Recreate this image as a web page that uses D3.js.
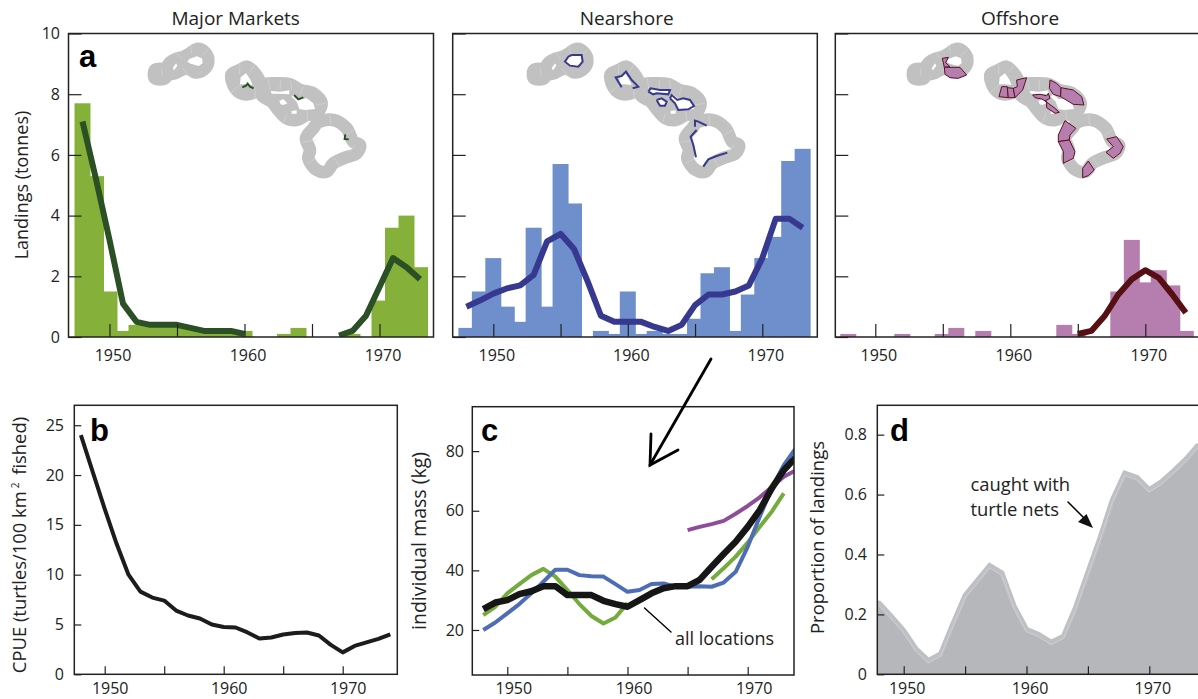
<!DOCTYPE html>
<html>
<head>
<meta charset="UTF-8" />
<title>Landings, CPUE and mass</title>
<script src="https://d3js.org/d3.v7.min.js"></script>
<style>
  body { margin: 0; background: #fff; }
  text { font-family: "Open Sans", sans-serif; fill: #222; }
  .letter { font-family: "Liberation Sans", sans-serif; font-weight: bold; font-size: 31px; fill: #000; }
  .domain { display: none; }
  .tick line { stroke: #222; stroke-width: 1.2; }
  .tick text { font-size: 16px; fill: #222; }
</style>
</head>
<body>
<script>
// years for the landings panels, one value per year
var years = d3.range(1948, 1974);
var longYears = d3.range(1948, 1975);

var marketBars = [7.7, 5.3, 1.5, 0.2, 0.4, 0.4, 0.4, 0.4, 0.3, 0.2, 0.2, 0.2, 0.2, 0, 0, 0.1, 0.3, 0, 0, 0, 0.1, 0, 1.2, 3.6, 4.0, 2.3];
var marketLine = [7.1, 5.2, 3.2, 1.1, 0.5, 0.4, 0.4, 0.4, 0.3, 0.2, 0.2, 0.2, 0.1, null, null, null, null, null, null, 0.05, 0.2, 0.7, 1.65, 2.6, 2.3, 1.9];

var nearBars = [0.3, 1.5, 2.6, 1.0, 0.5, 3.6, 1.0, 5.7, 4.4, 0, 0.2, 0.1, 1.5, 0.1, 0.2, 0.1, 0.1, 0.6, 2.1, 2.3, 0.2, 1.4, 2.6, 3.3, 5.8, 6.2];
var nearLine = [1.0, 1.2, 1.43, 1.6, 1.7, 2.05, 3.15, 3.4, 2.9, 1.85, 0.7, 0.5, 0.5, 0.5, 0.33, 0.2, 0.4, 1.05, 1.4, 1.4, 1.5, 1.7, 2.6, 3.9, 3.9, 3.6];

var offBars = [0.1, 0, 0, 0, 0.1, 0, 0, 0.1, 0.3, 0, 0.2, 0, 0, 0, 0, 0, 0.4, 0.1, 0, 0, 1.5, 3.2, 1.8, 2.2, 1.7, 0.2];
var offLine = [null, null, null, null, null, null, null, null, null, null, null, null, null, null, null, null, null, 0.1, 0.2, 0.7, 1.4, 1.9, 2.2, 1.95, 1.4, 0.8];

var cpue = [24, 20.3, 16.6, 13.1, 10, 8.3, 7.7, 7.4, 6.4, 5.9, 5.6, 5, 4.75, 4.7, 4.2, 3.6, 3.7, 4, 4.15, 4.2, 3.9, 2.95, 2.2, 2.85, 3.2, 3.55, 4];

var massGreen = [25, 27.8, 32.3, 35.4, 38.4, 40.5, 37.9, 33.4, 28.7, 24.7, 22.2, 24.2, 29, null, null, null, null, null, null, 37, 40.7, 44.6, 49.3, 54.6, 59.7, 65.8, null];
var massBlue = [20, 22.5, 25.6, 28.7, 32.3, 36.2, 40.2, 40.2, 38.4, 38, 37.9, 35.4, 32.8, 33.4, 35.4, 35.6, 34.5, 34.5, 34.7, 34.5, 35.9, 39.5, 47.9, 58, 67.5, 75.3, 81];
var massPurple = [null, null, null, null, null, null, null, null, null, null, null, null, null, null, null, null, null, 53.5, 54.6, 55.5, 56.6, 59, 61.6, 64.5, 68, 71.4, 73.6];
var massAll = [27, 29.2, 30, 32, 33, 34.7, 34.7, 31.7, 31.7, 31.7, 29.8, 28.7, 27.8, 30, 32.3, 34, 34.7, 34.7, 36.8, 41.2, 45.5, 49.6, 54.6, 60.2, 67.5, 73.6, 77.9];

var netYears = [1947.8].concat(longYears);
var netShare = [0.245, 0.244, 0.2, 0.153, 0.092, 0.053, 0.075, 0.175, 0.27, 0.32, 0.37, 0.345, 0.234, 0.157, 0.14, 0.114, 0.134, 0.231, 0.348, 0.464, 0.59, 0.678, 0.664, 0.623, 0.65, 0.687, 0.726, 0.773];

var yearTicks = [1950, 1955, 1960, 1965, 1970];

// map shapes, in pixels of the 3x crop, so the groups get scale(1/3)
var chainRings = [
  { fill: true, pts: [[45,105],[75,105],[75,130],[45,130]] },
  { fill: true, pts: [[150,55],[170,42],[195,52],[205,80],[190,105],[165,112],[140,100],[100,116],[82,118],[66,116],[75,104],[90,82],[112,70],[130,66]] },
  { fill: true, pts: [[275,118],[300,105],[322,95],[345,115],[360,145],[345,170],[320,178],[295,170],[278,145]] },
  { fill: true, pts: [[370,150],[410,145],[450,148],[480,165],[520,175],[545,205],[530,235],[500,240],[470,255],[440,250],[415,225],[395,200],[365,180]] },
  { fill: false, pts: [[535,262],[580,255],[620,280],[640,320],[660,330],[650,355],[610,370],[580,385],[560,410],[530,405],[505,370],[510,345],[498,310],[520,280]] }
];
var chainHoles = [
  [[148,72],[170,64],[186,70],[188,85],[176,93],[152,86],[142,80]],
  [[98,100],[108,85],[112,92],[102,106]],
  [[302,127],[318,115],[330,132],[338,150],[318,148],[300,148]],
  [[392,168],[420,170],[448,166],[448,178],[415,176],[395,176]],
  [[418,198],[430,192],[442,205],[430,210],[422,208]],
  [[455,228],[470,226],[470,236],[455,236]],
  [[455,185],[462,178],[480,193],[500,190],[520,205],[525,222],[495,225],[478,222],[470,200]]
];
var chainSeams = [
  [[64,100],[66,122]], [[108,50],[125,72]], [[150,28],[155,55]], [[205,45],[185,62]], [[128,100],[150,125]],
  [[300,88],[298,118]], [[345,88],[330,112]], [[300,150],[270,175]], [[345,155],[345,195]],
  [[385,130],[390,165]], [[422,135],[420,165]], [[452,135],[455,165]], [[490,155],[480,180]],
  [[558,205],[528,210]], [[500,225],[505,265]], [[440,235],[430,265]],
  [[570,240],[572,268]], [[615,300],[640,285]], [[645,330],[630,350]], [[580,365],[600,395]], [[530,370],[500,385]], [[528,315],[485,322]]
];
var greenBits = [
  [[307,157],[318,152],[323,146],[330,155],[341,160]],
  [[462,180],[475,193],[490,187]],
  [[616,298],[614,312],[626,313]]
];
var blueBits = [
  [[395,165],[425,165],[428,185],[415,200],[390,197],[375,185],[385,170],[395,165]],
  [[545,262],[527,232],[545,228],[558,215],[575,240],[595,260],[578,265]],
  [[625,275],[632,265],[660,270],[690,270],[685,283],[650,280],[640,283],[625,275]],
  [[650,300],[665,295],[680,305],[675,317],[660,317],[650,300]],
  [[690,295],[695,285],[712,300],[730,295],[750,300],[762,318],[745,328],[715,330],[705,310],[690,295]],
  [[800,377],[775,365],[765,362],[765,380]],
  [[770,390],[752,410],[760,435],[768,472]],
  [[790,500],[805,478],[830,468],[862,458]]
];
var purpleBits = [
  [[127,70],[145,67],[137,83],[150,95],[133,97]],
  [[133,97],[180,97],[200,120],[175,130],[150,128],[135,118]],
  [[297,185],[305,155],[322,155],[325,188]],
  [[322,158],[340,160],[345,188],[325,188]],
  [[340,160],[352,155],[350,135],[380,128],[368,165],[345,188]],
  [[450,135],[470,145],[483,158],[482,185],[460,178],[448,160]],
  [[483,158],[520,165],[545,185],[552,210],[520,208],[482,185]],
  [[398,180],[420,178],[440,182],[445,175],[450,190],[435,198],[445,205],[465,220],[478,232],[465,235],[440,218],[440,200],[425,192],[405,188]],
  [[495,257],[528,280],[510,300],[508,315],[475,320],[475,300]],
  [[475,320],[508,315],[525,350],[520,370],[490,385],[490,350]],
  [[620,312],[650,305],[670,335],[660,355],[640,370],[618,352],[640,335]],
  [[565,378],[583,405],[565,422],[548,428],[548,400]]
];

var svg = d3.select('body').append('svg').attr('width', 1198).attr('height', 699).style('display', 'block');
var dataLine = d3.line().defined(d => d[1] != null).x(d => d[0]).y(d => d[1]);
var rawLine = d3.line();
var ringLine = d3.line().curve(d3.curveCatmullRomClosed);
var clipId = 0;

function panel(o) {
  var g = svg.append('g');
  var x = d3.scaleLinear().domain(o.xDomain).range([o.xRange[0], o.xRange[1]]);
  var y = d3.scaleLinear().domain(o.yDomain).range([o.bottom, o.top]);
  clipId++;
  svg.append('clipPath').attr('id', 'clip' + clipId).append('rect')
    .attr('x', o.left).attr('y', o.top).attr('width', o.right - o.left).attr('height', o.bottom - o.top);
  var plot = g.append('g').attr('clip-path', 'url(#clip' + clipId + ')');

  var xAxis = d3.axisBottom(x).tickValues(yearTicks)
    .tickSize(-o.tick).tickPadding(0)
    .tickFormat(d => d % 10 === 0 ? d : '');
  var ax = g.append('g').attr('transform', 'translate(0,' + o.bottom + ')').call(xAxis);
  ax.selectAll('text').attr('y', o.labelY).attr('dy', 0).attr('dx', o.labelDx);

  var yAxis = d3.axisLeft(y).tickValues(o.yTicks).tickSize(-o.ytick).tickPadding(0)
    .tickFormat(o.yLabels ? (d => d === 0 ? '0' : d3.format(o.yFormat || 'd')(d)) : '');
  var ay = g.append('g').attr('transform', 'translate(' + o.left + ',0)').call(yAxis);
  ay.selectAll('text').attr('x', o.yLabelX - o.left);

  return { g: g, plot: plot, x: x, y: y, o: o };
}

function drawFrame(p) {
  var o = p.o;
  p.g.append('rect').attr('x', o.left).attr('y', o.top).attr('width', o.right - o.left).attr('height', o.bottom - o.top)
    .attr('fill', 'none').attr('stroke', '#222').attr('stroke-width', 1.5);
}

function bars(p, values, color) {
  p.plot.selectAll('rect.bar').data(values).enter().append('rect').attr('class', 'bar')
    .attr('x', (d, i) => p.x(years[i]) - 8)
    .attr('width', 16)
    .attr('y', d => p.y(d))
    .attr('height', d => p.y(0) - p.y(d))
    .attr('fill', color);
}

function series(p, xs, values, color, width) {
  var pts = xs.map((yr, i) => [p.x(yr), values[i] == null ? null : p.y(values[i])]);
  p.plot.append('path').attr('d', dataLine(pts)).attr('fill', 'none')
    .attr('stroke', color).attr('stroke-width', width).attr('stroke-linejoin', 'round');
}

function label(txt, x, y, size, rotate, anchor) {
  var t = svg.append('text').attr('font-size', size).attr('text-anchor', anchor || 'middle');
  if (rotate) t.attr('transform', 'translate(' + x + ',' + y + ') rotate(-90)');
  else t.attr('x', x).attr('y', y);
  t.text(txt);
  return t;
}

function letter(txt, x, y) {
  svg.append('text').attr('class', 'letter').attr('x', x).attr('y', y).text(txt);
}

function baseMap(dx) {
  var m = svg.append('g').attr('transform', 'translate(' + (140 + dx) + ',35) scale(0.3333)');
  chainRings.forEach(r => {
    m.append('path').attr('d', ringLine(r.pts))
      .attr('fill', r.fill ? '#c1c1c1' : 'none').attr('stroke', '#c1c1c1')
      .attr('stroke-width', 38).attr('stroke-linejoin', 'round');
  });
  chainHoles.forEach(h => {
    m.append('path').attr('d', rawLine(h) + 'Z').attr('fill', '#fff');
  });
  chainSeams.forEach(s => {
    m.append('path').attr('d', rawLine(s)).attr('stroke', '#dcdcdc').attr('stroke-width', 1.5).attr('fill', 'none');
  });
  return m;
}

var topCommon = { xDomain: [1950, 1970], top: 33.5, bottom: 337, yDomain: [0, 10], yTicks: [0, 2, 4, 6, 8, 10], tick: 13, ytick: 13, labelY: 24 };

// a, major markets
var pa = panel(Object.assign({}, topCommon, { left: 68.5, right: 433.5, xRange: [109.5, 379.5], labelDx: 3, yLabels: true, yLabelX: 60 }));
bars(pa, marketBars, '#85b13a');
series(pa, years, marketLine, '#2b5026', 6);
drawFrame(pa);

// nearshore
var pn = panel(Object.assign({}, topCommon, { left: 452.7, right: 817.3, xRange: [493.3, 762.3], labelDx: 3, yLabels: false, yLabelX: 450 }));
bars(pn, nearBars, '#6e8fcb');
series(pn, years, nearLine, '#36398f', 6);
drawFrame(pn);

// offshore
var po = panel(Object.assign({}, topCommon, { left: 835.3, right: 1199, xRange: [875.3, 1145.3], labelDx: 3, yLabels: false, yLabelX: 833 }));
bars(po, offBars, '#b57eae');
series(po, years, offLine, '#560f13', 6);
drawFrame(po);

// maps over the landings panels
var mapA = baseMap(0);
greenBits.forEach(b => {
  mapA.append('path').attr('d', rawLine(b)).attr('fill', 'none').attr('stroke', '#2b5026').attr('stroke-width', 6);
});
baseMap(379);
blueBits.forEach(b => {
  var closed = b[0][0] === b[b.length - 1][0] && b[0][1] === b[b.length - 1][1];
  svg.append('path').attr('transform', 'translate(440,0) scale(0.3333)').attr('d', rawLine(b))
    .attr('fill', closed ? '#fff' : 'none').attr('stroke', '#36398f').attr('stroke-width', 6);
});
baseMap(759);
purpleBits.forEach(b => {
  svg.append('path').attr('transform', 'translate(900,35) scale(0.3333)').attr('d', rawLine(b) + 'Z')
    .attr('fill', '#b57eae').attr('stroke', '#5a1020').attr('stroke-width', 3).attr('stroke-linejoin', 'round');
});

// b, cpue
var pb = panel({ xDomain: [1950, 1970], xRange: [104.7, 342.7], top: 405.3, bottom: 674.3, left: 74.3, right: 397.3, yDomain: [0, 27], yTicks: [0, 5, 10, 15, 20, 25], tick: 8, ytick: 7, labelY: 19.5, labelDx: 5, yLabels: true, yLabelX: 64 });
series(pb, longYears, cpue, '#1c1c1c', 4);
drawFrame(pb);

// c, mass
var pc = panel({ xDomain: [1950, 1970], xRange: [507.3, 747.7], top: 406.7, bottom: 675, left: 472.3, right: 794, yDomain: [4.9, 94.9], yTicks: [20, 40, 60, 80], tick: 8, ytick: 7, labelY: 18.8, labelDx: 6, yLabels: true, yLabelX: 464 });
series(pc, longYears, massPurple, '#8e4d9b', 4);
series(pc, longYears, massGreen, '#74ab3c', 4);
series(pc, longYears, massBlue, '#4d6db5', 4);
series(pc, longYears, massAll, '#161616', 6.5);
drawFrame(pc);

// d, proportion caught with nets
var pd = panel({ xDomain: [1950, 1970], xRange: [903.7, 1149.3], top: 405.3, bottom: 674.3, left: 877.3, right: 1199, yDomain: [0, 0.898], yTicks: [0, 0.2, 0.4, 0.6, 0.8], tick: 8, ytick: 7, labelY: 19.5, labelDx: 3, yLabels: true, yFormat: '.1f', yLabelX: 867 });
var netArea = d3.area().x((d, i) => pd.x(netYears[i])).y0(pd.y(0)).y1(d => pd.y(d));
pd.plot.append('path').attr('d', netArea(netShare)).attr('fill', '#b6b7bb');
var netTop = d3.line().x((d, i) => pd.x(netYears[i])).y(d => pd.y(d));
pd.plot.append('path').attr('d', netTop(netShare)).attr('fill', 'none').attr('stroke', '#bfc0c3').attr('stroke-width', 5).attr('transform', 'translate(0,2)');
pd.plot.append('path').attr('d', netTop(netShare)).attr('fill', 'none').attr('stroke', '#d2d3d5').attr('stroke-width', 0.8).attr('transform', 'translate(0,4.5)');
drawFrame(pd);

// titles
label('Major Markets', 235.7, 25, 19);
label('Nearshore', 626.7, 25, 19);
label('Offshore', 1020, 25, 19);

label('Landings (tonnes)', 28, 185, 18, true);
var cp = label('CPUE (turtles/100 km', 26, 545, 18.4, true);
cp.append('tspan').attr('dx', 3).attr('dy', -7).attr('font-size', 10).text('2');
cp.append('tspan').attr('dx', 3).attr('dy', 7).text(' fished)');
label('individual mass (kg)', 426, 541, 19.5, true);
label('Proportion of landings', 824, 537.5, 18.5, true);

letter('a', 79, 67);
letter('b', 90, 441);
letter('c', 481, 441);
letter('d', 890, 441);

label('all locations', 675, 645, 18, false, 'start');
label('caught with', 970.5, 490.5, 18.4, false, 'start');
label('turtle nets', 970.5, 516, 18.4, false, 'start');

// annotations
function stroke(pts, w) {
  svg.append('path').attr('d', rawLine(pts)).attr('fill', 'none').attr('stroke', '#000')
    .attr('stroke-width', w).attr('stroke-linecap', 'round').attr('stroke-linejoin', 'miter');
}
var bigArrow = [[711, 359], [650, 465]];
var bigHead = [[651, 434], [650, 465], [678, 450]];
var leader = [[644.5, 608], [671, 632]];
var netArrow = [[1068, 502], [1088, 522]];
var netHead = [[1078, 522], [1086.5, 514], [1093, 528]];
stroke(bigArrow, 2.8);
stroke(bigHead, 2.8);
stroke(leader, 1.4);
stroke(netArrow, 1.5);
svg.append('path').attr('d', rawLine(netHead) + 'Z').attr('fill', '#111');
</script>
</body>
</html>
